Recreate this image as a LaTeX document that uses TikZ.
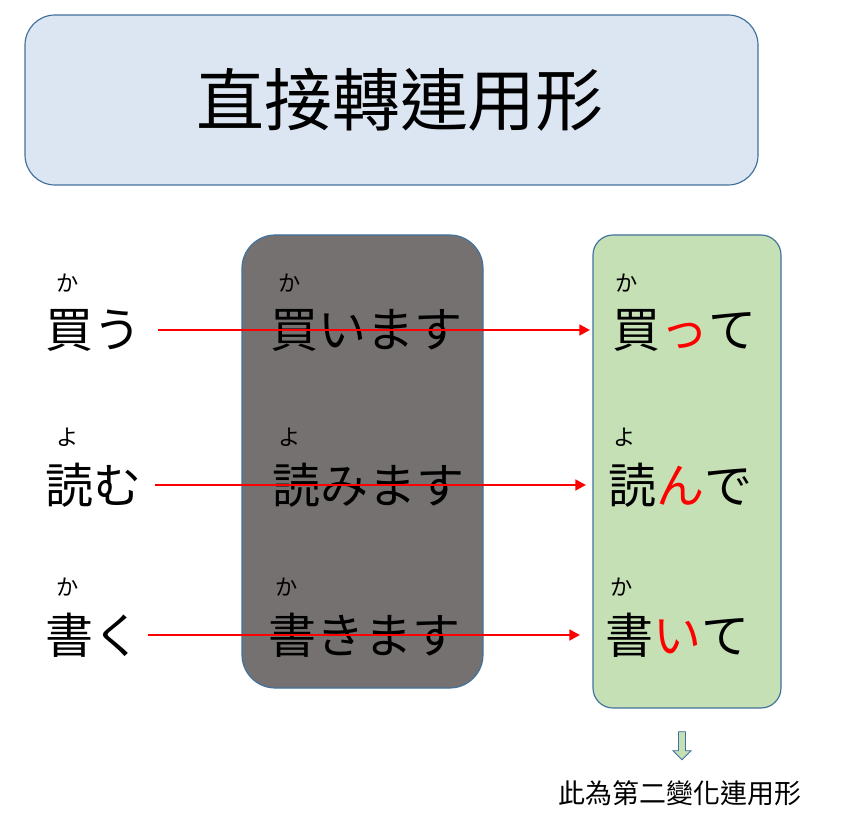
\documentclass[tikz,border=0pt]{standalone}
\usepackage{fontspec}
\setmainfont{Noto Sans CJK JP}
\newfontfamily\tcfont{Noto Sans CJK TC}
\usetikzlibrary{arrows.meta,shapes.arrows}
\definecolor{tbox}{HTML}{DCE6F2}
\definecolor{bord}{HTML}{41719C}
\definecolor{gbox}{HTML}{767171}
\definecolor{grn}{HTML}{C5E0B4}
\begin{document}
\begin{tikzpicture}[x=0.03cm,y=-0.03cm,
  word/.style={anchor=west,inner sep=0,font=\fontsize{41}{41}\selectfont},
  furi/.style={inner sep=0,font=\fontsize{19}{19}\selectfont},
  arr/.style={red,line width=2.5pt,-{Triangle[length=9pt,width=9pt]}}]
\useasboundingbox (0,0) rectangle (857,821);
\node[draw=bord,line width=1pt,fill=tbox,rounded corners=0.9cm,minimum width=733*0.03cm,minimum height=170*0.03cm] (title) at (391.5,100) {};
\node[font=\fontsize{58}{58}\selectfont] (tt) at (400,100) {\tcfont 直接轉連用形};
\node[draw=bord,line width=1pt,fill=gbox,rounded corners=1cm,minimum width=241*0.03cm,minimum height=453*0.03cm] (gray) at (362.5,461.5) {};
\node[draw=bord,line width=1pt,fill=grn,rounded corners=0.6cm,minimum width=188*0.03cm,minimum height=473*0.03cm] (green) at (687,471.5) {};
% row 1
\node[word] (a1) at (45,330) {買う};
\node[furi] (fa1) at (68,283) {か};
\node[word] (b1) at (270,330) {買います};
\node[furi] (fb1) at (290,283) {か};
\node[word] (c1) at (612,330) {買\textcolor{red}{っ}て};
\node[furi] (fc1) at (627,283) {か};
% row 2
\node[word] (a2) at (45,485) {読む};
\node[furi] (fa2) at (68,437) {よ};
\node[word] (b2) at (272,485) {読みます};
\node[furi] (fb2) at (290,437) {よ};
\node[word] (c2) at (608,485) {読\textcolor{red}{ん}で};
\node[furi] (fc2) at (625,437) {よ};
% row 3
\node[word] (a3) at (45,635) {書く};
\node[furi] (fa3) at (68,587) {か};
\node[word] (b3) at (268,635) {書きます};
\node[furi] (fb3) at (287,587) {か};
\node[word] (c3) at (605,635) {書\textcolor{red}{い}て};
\node[furi] (fc3) at (622,587) {か};
\coordinate (s1) at (158,330); \coordinate (e1) at (590,330);
\coordinate (s2) at (155,485); \coordinate (e2) at (586,485);
\coordinate (s3) at (148,635); \coordinate (e3) at (580,635);
\draw[arr] (s1) -- (e1);
\draw[arr] (s2) -- (e2);
\draw[arr] (s3) -- (e3);
\node[single arrow,shape border rotate=270,draw=bord,fill=grn,line width=0.8pt,minimum height=28*0.03cm,minimum width=18*0.03cm,single arrow head extend=3pt,inner sep=1.5pt] (down) at (682,744) {};
\node[font=\fontsize{23}{23}\selectfont] (note) at (680,793) {\tcfont 此為第二變化連用形};
\end{tikzpicture}
\end{document}
